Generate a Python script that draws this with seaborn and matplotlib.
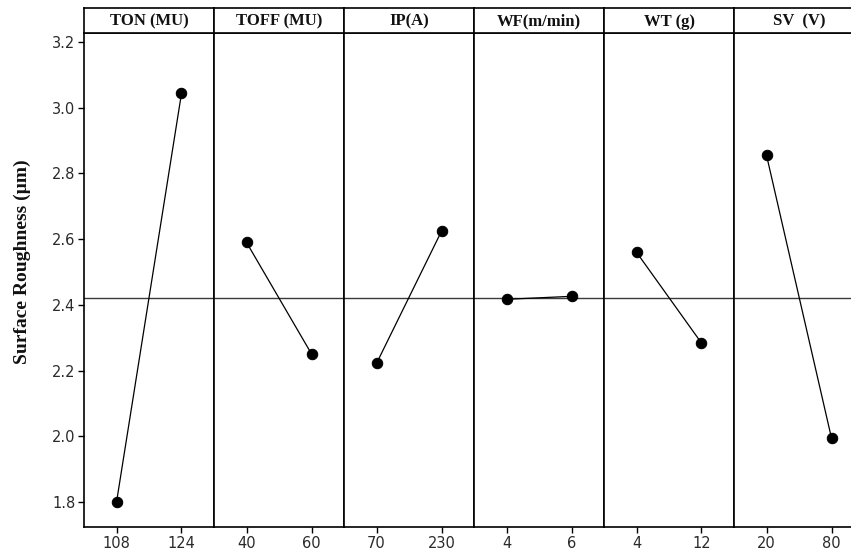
import numpy as np
import pandas as pd
import matplotlib
matplotlib.use("Agg")
import matplotlib.pyplot as plt
import seaborn as sns

# ---- data ----
factors = ["TON (MU)", "TOFF (MU)", "IP(A)", "WF(m/min)", "WT (g)", "SV  (V)"]
levels = [["108", "124"], ["40", "60"], ["70", "230"], ["4", "6"], ["4", "12"], ["20", "80"]]
low_means = [1.800, 2.590, 2.222, 2.417, 2.560, 2.855]
high_means = [3.043, 2.251, 2.624, 2.426, 2.284, 1.995]
grand_mean = 2.422
yticks = [1.8, 2.0, 2.2, 2.4, 2.6, 2.8, 3.0, 3.2]
ylabel = "Surface Roughness (µm)"

rows = []
for f, lv, lo, hi in zip(factors, levels, low_means, high_means):
    rows.append({"factor": f, "pos": 1, "level": lv[0], "mean": lo})
    rows.append({"factor": f, "pos": 2, "level": lv[1], "mean": hi})
df = pd.DataFrame(rows)

sns.set_theme(style="white")
plt.rcParams["font.family"] = ["DejaVu Sans"]

W, H = 851, 556
fig = plt.figure(figsize=(W / 100, H / 100), dpi=100)
fig.patch.set_facecolor("white")

left_px = 84.0
panel_w = 130.0
top_plot = 33.0
bottom_plot = 526.7
header_top = 8.0

frame_lw = 1.2
for i, f in enumerate(factors):
    x0 = (left_px + i * panel_w) / W
    ax = fig.add_axes([x0, (H - bottom_plot) / H, panel_w / W, (bottom_plot - top_plot) / H])
    sub = df[df["factor"] == f]
    ax.axhline(grand_mean, color="#3a3a3a", lw=1.0, zorder=1)
    sns.lineplot(data=sub, x="pos", y="mean", ax=ax, color="black", lw=0.9,
                 marker="o", markersize=7.5, markeredgecolor="black", zorder=3)
    ax.set_xlim(0.5, 2.5)
    ax.set_ylim(1.7257, 3.2265)
    ax.set_xticks([1, 2])
    ax.set_xticklabels(levels[i])
    ax.set_xlabel("")
    ax.set_ylabel("")
    ax.set_yticks(yticks)
    if i == 0:
        ax.set_yticklabels([f"{v:.1f}" for v in yticks])
        ax.tick_params(axis="y", left=True, direction="out", length=4, width=1.0,
                       color="black", labelsize=10.5, labelcolor="#2a2a2a", pad=2)
    else:
        ax.tick_params(axis="y", left=False, labelleft=False)
    ax.tick_params(axis="x", bottom=True, direction="out", length=4, width=1.0,
                   color="black", labelsize=10.5, labelcolor="#2a2a2a", pad=3)
    for s in ax.spines.values():
        s.set_color("black")
        s.set_linewidth(frame_lw)
        s.set_visible(True)
    ax.grid(False)
    ax.set_facecolor("white")

    # header strip
    hax = fig.add_axes([x0, (H - top_plot) / H, panel_w / W, (top_plot - header_top) / H])
    hax.set_xticks([])
    hax.set_yticks([])
    hax.set_facecolor("white")
    for s in hax.spines.values():
        s.set_color("black")
        s.set_linewidth(frame_lw)
    hax.text(0.5, 0.45, f, ha="center", va="center", transform=hax.transAxes,
             family=["Liberation Serif"], fontweight="bold", fontsize=12, color="#111111")

fig.text(22 / W, 1 - 262 / H, ylabel, rotation=90, ha="center", va="center",
         family=["Liberation Serif", "DejaVu Serif"], fontweight="bold", fontsize=14,
         color="#111111")

fig.savefig("out.png", dpi=100, facecolor="white")
